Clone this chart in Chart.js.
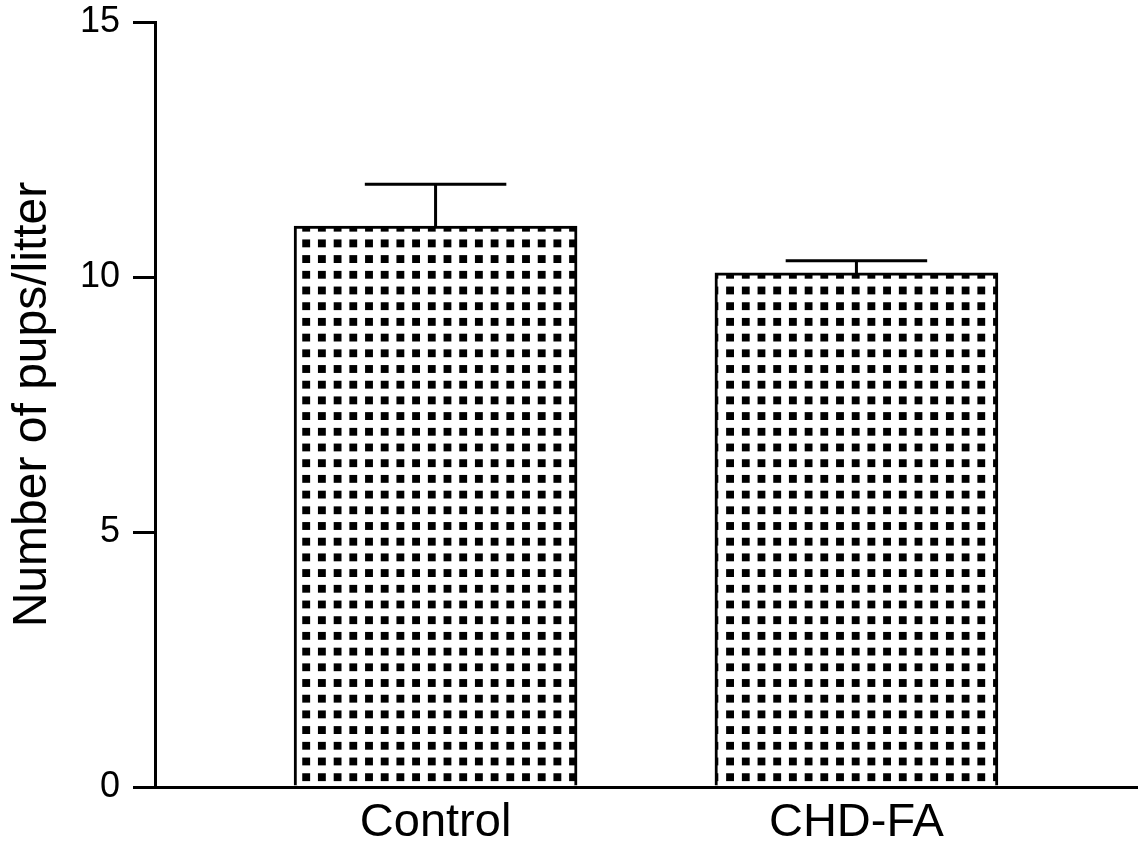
<!DOCTYPE html>
<html>
<head>
<meta charset="utf-8">
<script src="https://cdn.jsdelivr.net/npm/chart.js@4/dist/chart.umd.min.js"></script>
<style>
  body { margin: 0; background: #fff; }
</style>
</head>
<body>
<canvas id="chart" width="1140" height="850"></canvas>
<script>
'use strict';

// data
const groups = ['Control', 'CHD-FA'];
const pupsMean = [11.0, 10.08];
const pupsSem = [0.82, 0.24];
const yTicks = [0, 5, 10, 15];

// dotted fill like the printed bars
function dotPattern() {
  let c = document.createElement('canvas');
  c.width = 16;
  c.height = 16;
  let g = c.getContext('2d');
  g.fillStyle = '#fff';
  g.fillRect(0, 0, 16, 16);
  g.fillStyle = '#000';
  g.fillRect(4, 4, 8, 8);
  let p = g.createPattern(c, 'repeat');
  if (p.setTransform) p.setTransform(new DOMMatrix().scale(15.7 / 16));
  return p;
}

// error bars, upper half only
const errorBars = {
  id: 'errorBars',
  afterDatasetsDraw(chart) {
    let ctx = chart.ctx;
    let meta = chart.getDatasetMeta(0);
    let yScale = chart.scales.y;
    ctx.save();
    ctx.strokeStyle = '#000';
    ctx.lineWidth = 3;
    meta.data.forEach((bar, i) => {
      let top = yScale.getPixelForValue(pupsMean[i] + pupsSem[i]);
      let half = bar.width / 4;
      ctx.beginPath();
      ctx.moveTo(bar.x, bar.y);
      ctx.lineTo(bar.x, top);
      ctx.moveTo(bar.x - half, top);
      ctx.lineTo(bar.x + half, top);
      ctx.stroke();
    });
    ctx.restore();
  }
};

let points = [];
for (let i = 0; i < groups.length; i++) {
  points.push({x: i + 1, y: pupsMean[i]});
}

let ctx = document.getElementById('chart').getContext('2d');
let pupsChart = new Chart(ctx, {
  type: 'bar',
  data: {
    datasets: [{
      data: points,
      backgroundColor: dotPattern(),
      borderColor: '#000',
      borderWidth: 3,
      borderSkipped: 'bottom',
      barThickness: 283
    }]
  },
  plugins: [errorBars],
  options: {
    responsive: false,
    animation: false,
    devicePixelRatio: 1,
    layout: {padding: {top: 22, right: 3, left: 0, bottom: 0}},
    plugins: {
      legend: {display: false},
      tooltip: {enabled: false}
    },
    scales: {
      x: {
        type: 'linear',
        offset: false,
        min: 1 / 3,
        max: 8 / 3,
        afterBuildTicks: (s) => { s.ticks = groups.map((g, i) => ({value: i + 1})); },
        afterFit: (s) => {
          s.height = 63;
          s.paddingLeft = 0;
          s.paddingRight = 0;
        },
        grid: {display: false, drawTicks: false},
        border: {display: true, color: '#000', width: 3},
        ticks: {
          color: '#000',
          padding: 8,
          autoSkip: false,
          maxRotation: 0,
          font: {family: '"Liberation Sans", Arial, sans-serif', size: 47},
          callback: (v) => groups[Math.round(v) - 1]
        }
      },
      y: {
        min: 0,
        max: 15,
        afterBuildTicks: (s) => { s.ticks = yTicks.map(v => ({value: v})); },
        afterFit: (s) => {
          s.width = 155;
          s.paddingTop = 0;
          s.paddingBottom = 0;
        },
        grid: {
          display: true,
          drawOnChartArea: false,
          drawTicks: true,
          tickLength: 22,
          color: '#000',
          lineWidth: 3
        },
        border: {display: true, color: '#000', width: 3},
        ticks: {
          color: '#000',
          padding: 13,
          font: {family: '"Liberation Sans", Arial, sans-serif', size: 36}
        },
        title: {
          display: true,
          text: 'Number of pups/litter',
          color: '#000',
          padding: {top: 4, bottom: 0},
          font: {family: '"Liberation Sans", Arial, sans-serif', size: 48}
        }
      }
    }
  }
});
</script>
</body>
</html>
